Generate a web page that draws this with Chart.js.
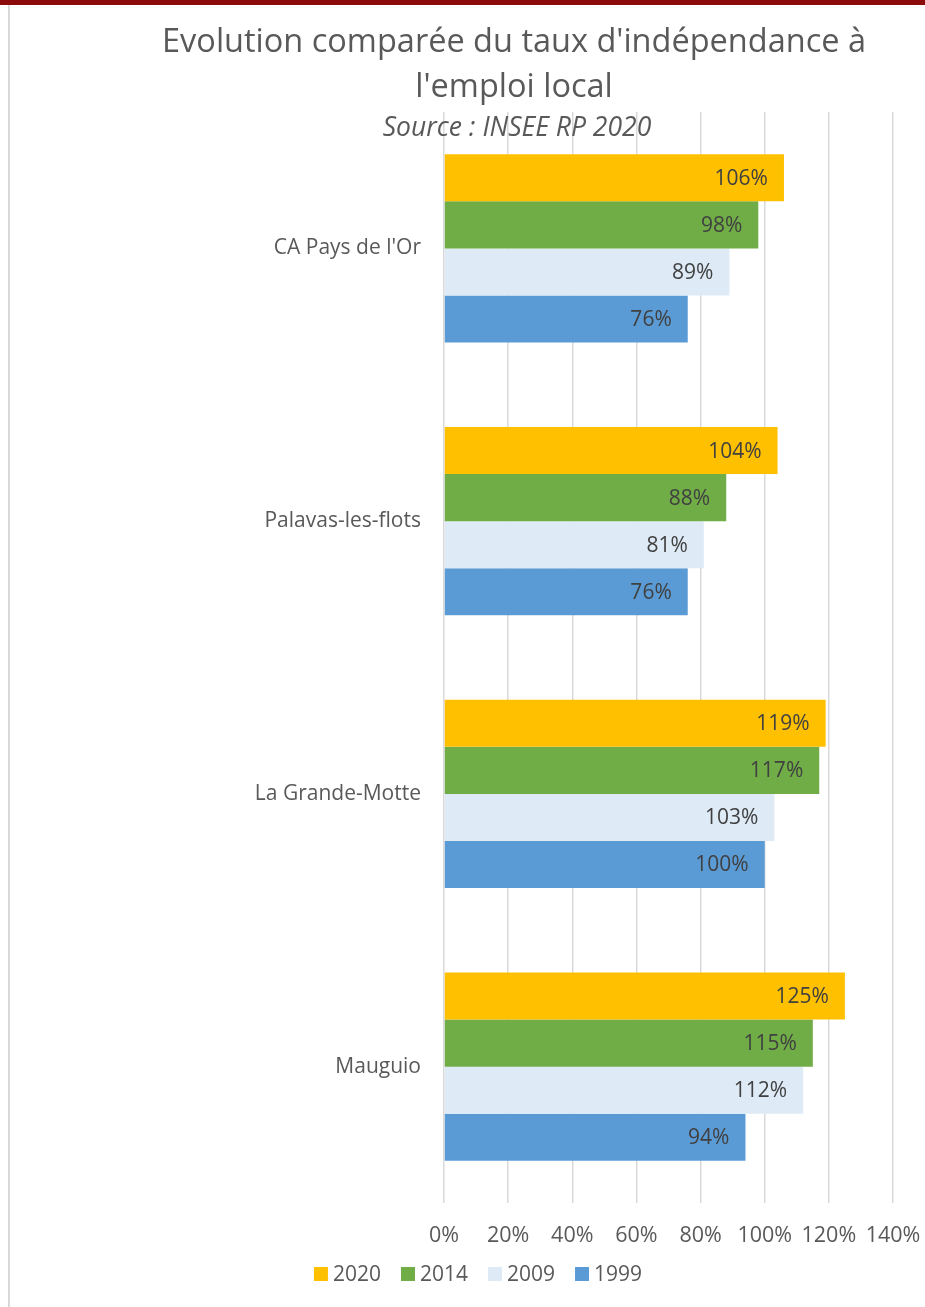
<!DOCTYPE html>
<html lang="fr">
<head>
<meta charset="utf-8">
<title>Evolution comparée du taux d'indépendance à l'emploi local</title>
<script src="https://cdn.jsdelivr.net/npm/chart.js@4.4.1/dist/chart.umd.min.js"></script>
<style>
  html, body { margin: 0; padding: 0; background: #fff; overflow: hidden; }
  .frame { position: relative; width: 925px; height: 1307px; }
  .frame canvas { position: absolute; left: 0; top: 0; }
  .topband { position: absolute; left: 0; top: 0; width: 925px; height: 5px; background: #8b0a0a; }
  .leftrule { position: absolute; left: 8px; top: 5px; width: 2px; height: 1302px; background: #d9d9d9; }
</style>
</head>
<body>
<div class="frame">
  <canvas id="chart" width="925" height="1307"></canvas>
  <div class="topband"></div>
  <div class="leftrule"></div>
</div>
<script>
// Taux d'indépendance à l'emploi local, par commune et par recensement
const communes = ["CA Pays de l'Or", 'Palavas-les-flots', 'La Grande-Motte', 'Mauguio'];
const years    = ['2020', '2014', '2009', '1999'];
const rate2020 = [106, 104, 119, 125];
const rate2014 = [98, 88, 117, 115];
const rate2009 = [89, 81, 103, 112];
const rate1999 = [76, 76, 100, 94];
const xTicks   = [0, 20, 40, 60, 80, 100, 120, 140];

const titleLines = ["Evolution comparée du taux d'indépendance à", "l'emploi local"];
const subtitle   = 'Source : INSEE RP 2020';

const yearColors = ['#FFC000', '#70AD47', '#DEEBF7', '#5B9BD5'];
const FONT = '"Open Sans", "Noto Sans", sans-serif';
const GREY = '#595959';

const series = [rate2020, rate2014, rate2009, rate1999];

// Title + source line, centred a bit right of the canvas middle
const titleBlock = {
  id: 'titleBlock',
  afterDraw(chart) {
    const ctx = chart.ctx;
    const cx = 514;
    ctx.save();
    ctx.fillStyle = GREY;
    ctx.textAlign = 'center';
    ctx.textBaseline = 'middle';
    ctx.font = '400 32.5px ' + FONT;
    ctx.fillText(titleLines[0], cx, 43);
    ctx.fillText(titleLines[1], cx, 88);
    ctx.font = 'italic 26.5px ' + FONT;
    ctx.fillText(subtitle, cx + 3, 128);
    ctx.restore();
  }
};

// Value written inside the end of each bar
const barValueLabels = {
  id: 'barValueLabels',
  afterDatasetsDraw(chart) {
    const ctx = chart.ctx;
    ctx.save();
    ctx.font = '21px ' + FONT;
    ctx.fillStyle = '#404040';
    ctx.textAlign = 'right';
    ctx.textBaseline = 'middle';
    chart.data.datasets.forEach((ds, i) => {
      chart.getDatasetMeta(i).data.forEach((bar, j) => {
        ctx.fillText(ds.data[j] + '%', bar.x - 16, bar.y + 1);
      });
    });
    ctx.restore();
  }
};

// Legend row under the axis
const legendRow = {
  id: 'legendRow',
  afterDraw(chart) {
    const ctx = chart.ctx;
    const box = 14, gap = 5, spacing = 20;
    const y = 1274;
    ctx.save();
    ctx.font = '21px ' + FONT;
    ctx.textBaseline = 'middle';
    ctx.textAlign = 'left';
    const items = chart.data.datasets.map(ds => ({
      text: ds.label, color: ds.backgroundColor, w: ctx.measureText(ds.label).width
    }));
    const total = items.reduce((s, it) => s + box + gap + it.w, 0) + spacing * (items.length - 1);
    let x = 478 - total / 2;
    items.forEach(it => {
      ctx.fillStyle = it.color;
      ctx.fillRect(x, y - box / 2, box, box);
      x += box + gap;
      ctx.fillStyle = GREY;
      ctx.fillText(it.text, x, y + 1);
      x += it.w + spacing;
    });
    ctx.restore();
  }
};

new Chart(document.getElementById('chart'), {
  type: 'bar',
  data: {
    labels: communes,
    datasets: years.map((y, i) => ({
      label: y,
      data: series[i],
      backgroundColor: yearColors[i],
      borderWidth: 0,
      categoryPercentage: 0.69,
      barPercentage: 1
    }))
  },
  options: {
    indexAxis: 'y',
    responsive: false,
    devicePixelRatio: 1,
    animation: false,
    layout: { padding: { left: 10, right: 32, top: 112, bottom: 0 } },
    plugins: {
      legend: { display: false },
      title: { display: false },
      tooltip: { enabled: false }
    },
    scales: {
      x: {
        min: 0,
        max: 140,
        afterBuildTicks: s => { s.ticks = xTicks.map(v => ({ value: v })); },
        ticks: {
          callback: v => v + '%',
          font: { family: FONT, size: 21.5 },
          color: GREY,
          padding: 0,
          maxRotation: 0,
          autoSkip: false
        },
        // invisible tick marks push the labels down without widening the side padding
        grid: { color: '#d9d9d9', lineWidth: 1.5, drawTicks: true, tickLength: 20, tickColor: 'rgba(0,0,0,0)' },
        border: { display: false },
        afterFit: s => { s.height = 104; }
      },
      y: {
        ticks: {
          font: { family: FONT, size: 21 },
          color: GREY,
          padding: 23
        },
        grid: { display: false, drawTicks: false },
        border: { display: false },
        afterFit: s => { s.width = 434; }
      }
    }
  },
  plugins: [titleBlock, barValueLabels, legendRow]
});
</script>
</body>
</html>
